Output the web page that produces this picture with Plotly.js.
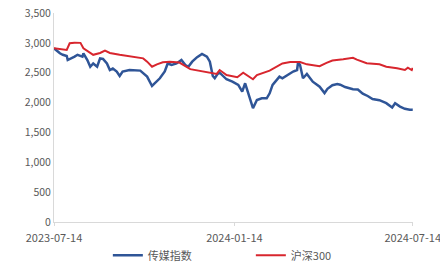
<!DOCTYPE html>
<html><head><meta charset="utf-8">
<script src="https://cdn.plot.ly/plotly-3.0.1.min.js"></script>
<style>html,body{margin:0;padding:0;background:#fff}#c{width:440px;height:267px}</style>
</head><body><div id="c"></div>
<script>
const mediaDates = ["2023-07-14","2023-07-20","2023-07-23","2023-07-27","2023-07-28","2023-08-01","2023-08-04","2023-08-07","2023-08-12","2023-08-13","2023-08-17","2023-08-20","2023-08-23","2023-08-27","2023-08-30","2023-09-02","2023-09-06","2023-09-09","2023-09-12","2023-09-16","2023-09-19","2023-09-22","2023-09-29","2023-10-10","2023-10-17","2023-10-22","2023-10-25","2023-10-30","2023-11-04","2023-11-07","2023-11-11","2023-11-16","2023-11-21","2023-11-25","2023-11-28","2023-12-02","2023-12-07","2023-12-12","2023-12-17","2023-12-20","2023-12-23","2023-12-25","2023-12-28","2023-12-30","2024-01-06","2024-01-12","2024-01-18","2024-01-22","2024-01-25","2024-01-30","2024-02-02","2024-02-06","2024-02-11","2024-02-16","2024-02-19","2024-02-22","2024-02-26","2024-02-29","2024-03-03","2024-03-08","2024-03-11","2024-03-14","2024-03-18","2024-03-19","2024-03-21","2024-03-24","2024-03-28","2024-04-03","2024-04-10","2024-04-15","2024-04-18","2024-04-23","2024-04-28","2024-05-01","2024-05-06","2024-05-11","2024-05-14","2024-05-19","2024-05-24","2024-05-29","2024-06-03","2024-06-10","2024-06-17","2024-06-23","2024-06-26","2024-07-01","2024-07-06","2024-07-11","2024-07-14"];
const mediaValues = [2910,2825,2800,2780,2713,2740,2770,2800,2770,2825,2713,2600,2655,2600,2740,2730,2655,2545,2570,2520,2445,2520,2545,2535,2435,2278,2323,2407,2520,2655,2630,2655,2713,2630,2600,2685,2760,2814,2770,2685,2445,2407,2480,2500,2390,2350,2295,2183,2323,2043,1905,2043,2072,2072,2155,2295,2378,2435,2407,2460,2480,2520,2545,2675,2630,2407,2480,2350,2267,2160,2230,2290,2310,2300,2260,2240,2225,2220,2150,2110,2060,2040,1990,1918,1988,1932,1895,1880,1878];

const hs300Dates = ["2023-07-14","2023-07-27","2023-07-30","2023-08-04","2023-08-10","2023-08-13","2023-08-23","2023-08-30","2023-09-04","2023-09-09","2023-09-19","2023-10-03","2023-10-13","2023-10-17","2023-10-22","2023-10-27","2023-11-02","2023-11-09","2023-11-19","2023-11-30","2023-12-10","2023-12-20","2023-12-27","2023-12-30","2024-01-06","2024-01-17","2024-01-23","2024-02-02","2024-02-06","2024-02-19","2024-02-26","2024-03-03","2024-03-11","2024-03-21","2024-03-28","2024-04-10","2024-04-17","2024-04-23","2024-05-04","2024-05-14","2024-05-18","2024-05-28","2024-06-10","2024-06-17","2024-06-28","2024-07-06","2024-07-09","2024-07-13","2024-07-14"];
const hs300Values = [2910,2880,2993,3003,3000,2910,2800,2830,2870,2830,2800,2760,2740,2685,2600,2640,2675,2685,2670,2560,2530,2490,2480,2545,2460,2425,2500,2390,2460,2535,2600,2655,2680,2680,2640,2610,2665,2705,2725,2750,2720,2660,2640,2600,2575,2545,2585,2545,2580];

const xTicks = ["2023-07-14","2024-01-14","2024-07-14"];
const yTicks = [0,500,1000,1500,2000,2500,3000,3500];
const names = ["传媒指数","沪深300"];

const data = [
  {x: mediaDates, y: mediaValues, type:'scatter', mode:'lines', name:names[0],
   line:{color:'#2f5597', width:2.5}},
  {x: hs300Dates, y: hs300Values, type:'scatter', mode:'lines', name:names[1],
   line:{color:'#d8262e', width:2}}
];
const layout = {
  width:440, height:267,
  margin:{l:54, r:27, t:13, b:45, autoexpand:false},
  paper_bgcolor:'#fff', plot_bgcolor:'#fff',
  font:{family:'"Noto Sans CJK SC", "Noto Sans", sans-serif', size:11, color:'#595959'},
  xaxis:{type:'date', range:['2023-07-14','2024-07-14 06:00'], tickvals:xTicks, ticktext:xTicks,
    ticklabeloverflow:'allow', automargin:false, ticklabelstandoff:3,
    showgrid:false, zeroline:false, showline:true, linecolor:'#d9d9d9', linewidth:1,
    ticks:'outside', ticklen:3, tickcolor:'#d9d9d9', tickfont:{size:11, color:'#595959'}},
  yaxis:{range:[0,3500], tickvals:yTicks, tickformat:',d', showgrid:false, zeroline:false, automargin:false,
    showline:true, linecolor:'#d9d9d9', linewidth:1, ticks:'', tickfont:{size:10.5, color:'#595959'}},
  showlegend:true,
  legend:{orientation:'h', x:0.15, xanchor:'left', y:-0.09, yanchor:'top', entrywidth:98,
    font:{size:11, color:'#595959'}, bgcolor:'rgba(0,0,0,0)'}
};
Plotly.newPlot('c', data, layout, {displayModeBar:false, staticPlot:true});
</script></body></html>
